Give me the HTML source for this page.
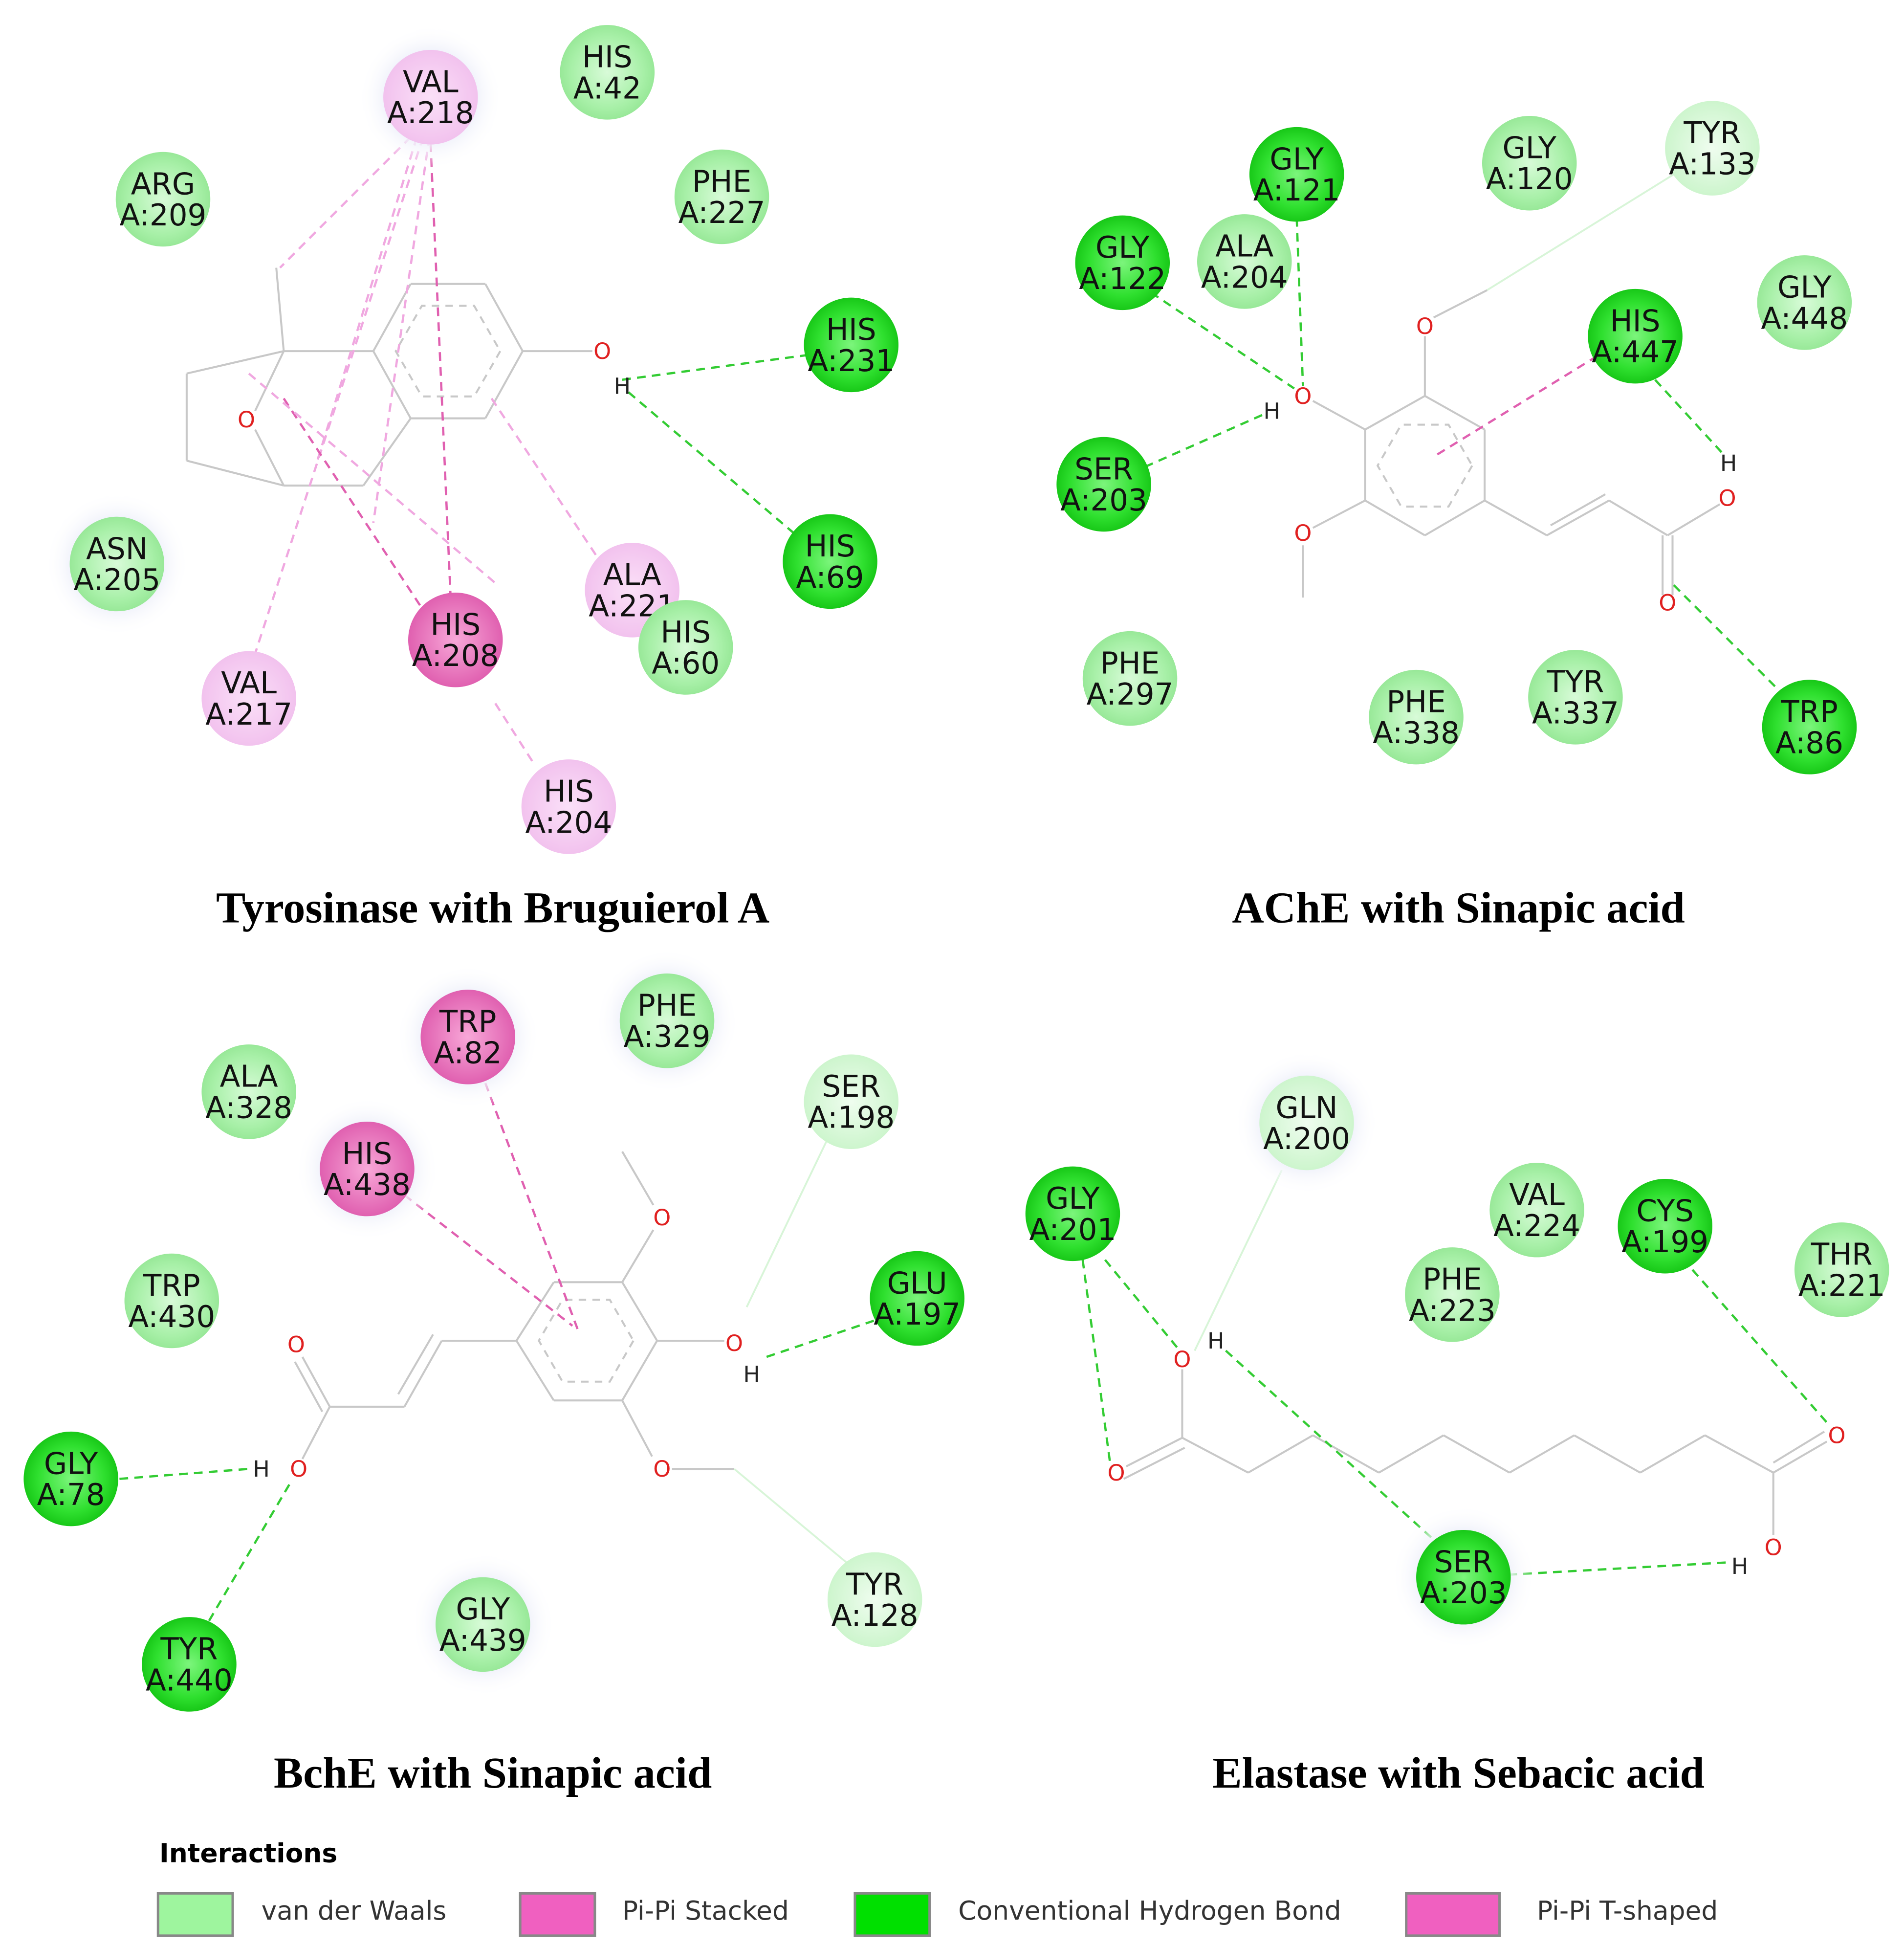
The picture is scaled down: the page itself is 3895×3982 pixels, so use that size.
<!DOCTYPE html>
<html><head><meta charset="utf-8"><style>
html,body{margin:0;padding:0;background:#fff}
svg{display:block}
.res{font-family:"DejaVu Sans","Liberation Sans",sans-serif;font-size:24px;text-anchor:middle;fill:#111}
.title{font-family:"Liberation Serif",serif;font-weight:bold;font-size:35.5px;text-anchor:middle;fill:#000}
.atom{font-family:"DejaVu Sans",sans-serif;font-size:18px;text-anchor:middle;dominant-baseline:central}
.leg{font-family:"DejaVu Sans","Liberation Sans",sans-serif;font-size:21px;fill:#333}
</style></head><body>
<svg id="fig" width="3895" height="3982" viewBox="0 0 1530 1564" xmlns="http://www.w3.org/2000/svg">
<defs>
<radialGradient id="g-vdw"><stop offset="0" stop-color="#d8fbd8"/><stop offset="0.75" stop-color="#a8f0a8"/><stop offset="1" stop-color="#98e898"/></radialGradient>
<radialGradient id="g-pale"><stop offset="0" stop-color="#effdef"/><stop offset="1" stop-color="#cdf5cd"/></radialGradient>
<radialGradient id="g-hb"><stop offset="0" stop-color="#7cf57c"/><stop offset="0.7" stop-color="#2fe02f"/><stop offset="1" stop-color="#18c818"/></radialGradient>
<radialGradient id="g-pi"><stop offset="0" stop-color="#f8a8d8"/><stop offset="1" stop-color="#e060b0"/></radialGradient>
<radialGradient id="g-pa"><stop offset="0" stop-color="#fbe0f8"/><stop offset="1" stop-color="#f2c2ee"/></radialGradient>
<radialGradient id="g-halo"><stop offset="0.6" stop-color="#eef0fa"/><stop offset="1" stop-color="#ffffff" stop-opacity="0"/></radialGradient>
</defs>
<g id="bonds" stroke="#c8c8c8" stroke-width="1.6" fill="none"></g>
<g id="inter" fill="none"></g>
<g id="atoms"></g>
<g id="residues"></g>
<text class="title" x="396" y="741">Tyrosinase with Bruguierol A</text>
<text class="title" x="1172" y="741">AChE with Sinapic acid</text>
<text class="title" x="396" y="1436">BchE with Sinapic acid</text>
<text class="title" x="1172" y="1436">Elastase with Sebacic acid</text>
<g>
<text x="128" y="1496" style="font-family:'DejaVu Sans',sans-serif;font-weight:bold;font-size:21px">Interactions</text>
<g><rect x="127" y="1521" width="60" height="34" fill="#9ef59e" stroke="#888" stroke-width="2"/><text class="leg" x="210" y="1542">van der Waals</text></g>
<g><rect x="418" y="1521" width="60" height="34" fill="#f060c0" stroke="#888" stroke-width="2"/><text class="leg" x="500" y="1542">Pi-Pi Stacked</text></g>
<g><rect x="687" y="1521" width="60" height="34" fill="#00e000" stroke="#888" stroke-width="2"/><text class="leg" x="770" y="1542">Conventional Hydrogen Bond</text></g>
<g><rect x="1130" y="1521" width="75" height="34" fill="#f060c0" stroke="#888" stroke-width="2"/><text class="leg" x="1235" y="1542">Pi-Pi T-shaped</text></g>
</g>
</svg>
<script>
const NS="http://www.w3.org/2000/svg";
const resNames=["VAL","HIS","ARG","PHE","HIS","ASN","HIS","ALA","HIS","HIS","VAL","HIS",
"GLY","GLY","TYR","GLY","ALA","GLY","HIS","SER","PHE","PHE","TYR","TRP",
"TRP","PHE","ALA","SER","HIS","TRP","GLU","GLY","TYR","GLY","TYR",
"GLN","GLY","VAL","CYS","THR","PHE","SER"];
const resIds=["A:218","A:42","A:209","A:227","A:231","A:205","A:69","A:221","A:60","A:208","A:217","A:204",
"A:121","A:120","A:133","A:122","A:204","A:448","A:447","A:203","A:297","A:338","A:337","A:86",
"A:82","A:329","A:328","A:198","A:438","A:430","A:197","A:78","A:440","A:439","A:128",
"A:200","A:201","A:224","A:199","A:221","A:223","A:203"];
const resTypes=["pa","vdw","vdw","vdw","hb","vdw","hb","pa","vdw","pi","pa","pa",
"hb","vdw","pale","hb","vdw","vdw","hb","hb","vdw","vdw","vdw","hb",
"pi","vdw","vdw","pale","pi","vdw","hb","hb","hb","vdw","pale",
"pale","hb","vdw","hb","vdw","vdw","hb"];
const resX=[346,488,131,580,684,94,667,508,551,366,200,457,1042,1229,1376,902,1000,1450,1314,887,908,1138,1266,1454,376,536,200,684,295,138,737,57,152,388,703,1050,862,1235,1338,1480,1167,1176];
const resY=[78,58,160,158,277,453,451,474,520,514,561,648,140,131,119,211,210,243,270,389,545,576,560,584,833,820,877,885,939,1045,1043,1188,1337,1305,1285,902,975,972,985,1020,1040,1267];
const halo=[0,5,24,28,35,41,25,33];

const bondLines=[
[330,228,390,228],[390,228,420,282],[420,282,390,336],[390,336,330,336],[330,336,300,282],[300,282,330,228],
[420,282,476,282],[300,282,228,282],[228,282,222,215],[228,282,150,300],[150,300,150,370],[150,370,228,390],[228,390,292,390],[292,390,330,336],[228,282,205,330],[205,345,228,390],
[1145,318,1193,345],[1193,345,1193,402],[1193,402,1145,430],[1145,430,1097,402],[1097,402,1097,345],[1097,345,1145,318],
[1145,318,1145,270],[1152,255,1195,233],[1097,345,1055,322],[1097,402,1055,424],[1047,438,1047,480],
[1193,402,1243,430],[1243,430,1293,402],[1246,422,1290,397],[1293,402,1340,430],[1340,430,1382,405],[1336,430,1336,478],[1344,430,1344,478],
[445,1030,500,1030],[500,1030,528,1077],[528,1077,500,1125],[500,1125,445,1125],[445,1125,415,1077],[415,1077,445,1030],
[500,1030,525,988],[525,968,500,925],[528,1077,582,1077],[500,1125,524,1170],[540,1180,590,1180],
[415,1077,355,1077],[355,1077,325,1130],[348,1072,320,1120],[325,1130,265,1130],[265,1130,243,1090],[259,1134,237,1094],[265,1130,243,1172],
[905,1178,950,1155],[903,1188,952,1163],[950,1155,950,1100],[950,1155,1003,1183],[1003,1183,1055,1153],[1055,1153,1108,1183],[1108,1183,1160,1153],[1160,1153,1213,1183],[1213,1183,1265,1153],[1265,1153,1318,1183],[1318,1183,1370,1153],[1370,1153,1425,1183],[1425,1183,1468,1158],[1425,1175,1466,1150],[1425,1183,1425,1233]];
const ringDash=[[360,282,42],[1145,374,38],[471,1077,38]];
const atomX=[484,500,198,1047,1022,1145,1047,1388,1389,1340,532,590,604,532,238,240,210,950,977,897,1476,1425,1398];
const atomY=[282,310,337,318,330,262,428,400,372,484,978,1079,1104,1180,1080,1180,1180,1092,1077,1183,1153,1243,1258];
const atomLbl=["O","H","O","O","H","O","O","O","H","O","O","O","H","O","O","O","H","O","H","O","O","O","H"];
const interLines=[
[500,305,650,285,"hb"],[505,315,640,430,"hb"],[346,115,362,478,"pi"],[330,110,225,215,"pa"],[335,110,255,370,"pa"],[340,110,205,525,"pa"],[345,110,300,420,"pa"],[228,320,340,490,"pi"],[200,300,400,470,"pa"],[395,320,485,455,"pa"],[398,565,430,615,"pa"],
[1042,175,1047,310,"hb"],[925,235,1040,312,"hb"],[920,375,1015,333,"hb"],[1155,365,1285,285,"pi"],[1330,305,1385,365,"hb"],[1345,470,1430,555,"hb"],[1195,233,1345,140,"vdw"],
[390,870,465,1070,"pi"],[325,960,460,1065,"pi"],[96,1188,200,1180,"hb"],[168,1302,234,1190,"hb"],[616,1090,705,1060,"hb"],[600,1050,665,915,"vdw"],[590,1180,680,1255,"vdw"],
[870,1012,892,1175,"hb"],[888,1012,948,1085,"hb"],[985,1085,1150,1235,"hb"],[1212,1265,1390,1255,"hb"],[1360,1020,1470,1145,"hb"],[960,1085,1030,940,"vdw"]];
const fills={vdw:"url(#g-vdw)",pale:"url(#g-pale)",hb:"url(#g-hb)",pi:"url(#g-pi)",pa:"url(#g-pa)"};
const lineCol={hb:"#33cc33",pi:"#e060b0",pa:"#f0a8e0",vdw:"#d8f5d8"};

const bg=document.getElementById('bonds');
for(const b of bondLines){const l=document.createElementNS(NS,'line');


l.setAttribute('x1',b[0]);l.setAttribute('y1',b[1]);l.setAttribute('x2',b[2]);l.setAttribute('y2',b[3]);bg.appendChild(l);}
for(const r of ringDash){const p=document.createElementNS(NS,'polygon');


let pts=[];for(let k=0;k<6;k++){const a=Math.PI/3*k;pts.push((r[0]+r[2]*Math.cos(a)).toFixed(1)+','+(r[1]+r[2]*Math.sin(a)).toFixed(1));}
p.setAttribute('points',pts.join(' '));p.setAttribute('stroke-dasharray','6 5');bg.appendChild(p);}
const ig=document.getElementById('inter');
for(const L of interLines){const l=document.createElementNS(NS,'line');


l.setAttribute('x1',L[0]);l.setAttribute('y1',L[1]);l.setAttribute('x2',L[2]);l.setAttribute('y2',L[3]);
l.setAttribute('stroke',lineCol[L[4]]);l.setAttribute('stroke-width',L[4]==="vdw"?1.5:1.8);
if(L[4]!=="vdw")l.setAttribute('stroke-dasharray','7 5');ig.appendChild(l);}
const ag=document.getElementById('atoms');
atomLbl.forEach((s,i)=>{const t=document.createElementNS(NS,'text');


t.setAttribute('class','atom');t.setAttribute('x',atomX[i]);t.setAttribute('y',atomY[i]);
t.setAttribute('fill',s==="O"?"#e02020":"#222");t.textContent=s;ag.appendChild(t);});
const rg=document.getElementById('residues');
resNames.forEach((n,i)=>{const g=document.createElementNS(NS,'g');


if(halo.includes(i)){const h=document.createElementNS(NS,'circle');h.setAttribute('cx',resX[i]);h.setAttribute('cy',resY[i]);h.setAttribute('r',58);h.setAttribute('fill','url(#g-halo)');g.appendChild(h);}
const c=document.createElementNS(NS,'circle');c.setAttribute('cx',resX[i]);c.setAttribute('cy',resY[i]);c.setAttribute('r',38);c.setAttribute('fill',fills[resTypes[i]]);g.appendChild(c);
const t1=document.createElementNS(NS,'text');t1.setAttribute('class','res');t1.setAttribute('x',resX[i]);t1.setAttribute('y',resY[i]-4);t1.textContent=n;g.appendChild(t1);
const t2=document.createElementNS(NS,'text');t2.setAttribute('class','res');t2.setAttribute('x',resX[i]);t2.setAttribute('y',resY[i]+21);t2.textContent=resIds[i];g.appendChild(t2);
rg.appendChild(g);});
</script>
</body></html>
